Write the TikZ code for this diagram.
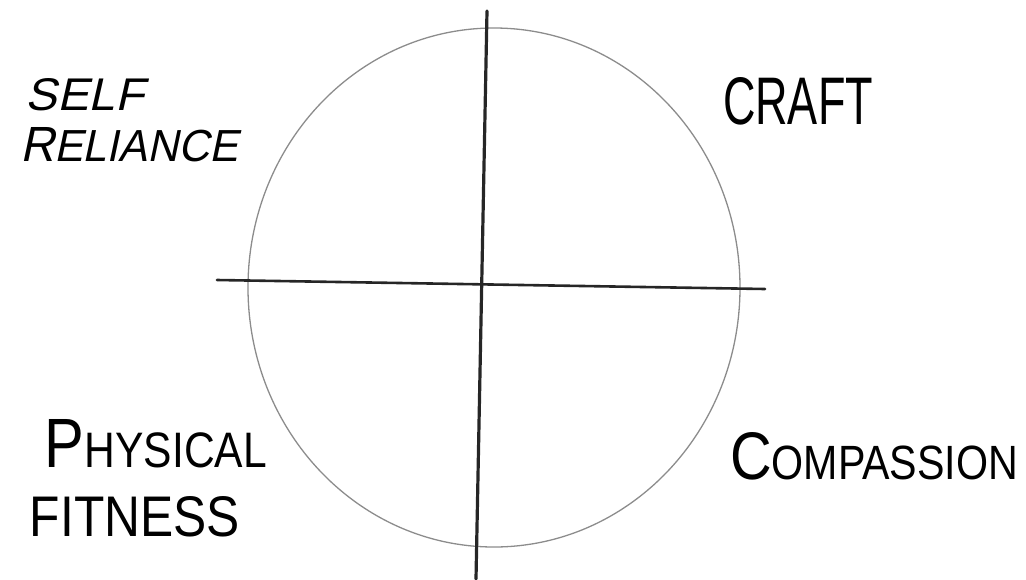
\documentclass[tikz,border=0pt]{standalone}
\usepackage{fontspec}
\usepackage{graphicx}
\setmainfont{Liberation Sans}
\newfontfamily\handslant[FakeSlant=0.22]{Liberation Sans}
\newcommand{\lab}[3]{\resizebox{#1pt}{#2pt}{#3}}
\newcommand{\BL}[1]{{\fontsize{14}{14}\selectfont #1}}
\newcommand{\BR}[1]{{\fontsize{11}{11}\selectfont #1}}
\tikzset{
  label/.style={anchor=south west, inner sep=0pt, outer sep=0pt, text=black},
  axis/.style={line width=3.2pt, black!85, line cap=round},
  ring/.style={line width=1.3pt, black!45}
}
\begin{document}
\begin{tikzpicture}[x=1pt,y=-1pt]
  \useasboundingbox (0,0) rectangle (1026,579);
  % circle
  \draw[ring] (494,287.5) ellipse [x radius=246, y radius=259.5];
  % axes
  \coordinate (vtop) at (487,11);
  \coordinate (vbot) at (476,579);
  \coordinate (hl) at (217,280);
  \coordinate (hr) at (765,289);
  \draw[axis] (vtop) -- (vbot);
  \draw[axis, line width=2.6pt] (hl) -- (hr);
  % labels
  \node[label] (self) at (26,111) {\lab{118}{32}{\handslant\fontsize{10}{10}\selectfont SELF}};
  \node[label] (reliance) at (20,162) {\lab{218}{34}{\handslant\fontsize{10}{10}\selectfont \BR{R}ELIANCE}};
  \node[label] (craft) at (723,125) {\lab{150}{47}{\fontsize{10}{10}\selectfont CRAFT}};
  \node[label] (physical) at (45,468) {\lab{222}{48}{\fontsize{10}{10}\selectfont \BL{P}HYSICAL}};
  \node[label] (fitness) at (30,537) {\lab{210}{40}{\fontsize{10}{10}\selectfont FITNESS}};
  \node[label] (compassion) at (730,480) {\lab{288}{47}{\fontsize{10}{10}\selectfont \BL{C}OMPASSION}};
\end{tikzpicture}
\end{document}
